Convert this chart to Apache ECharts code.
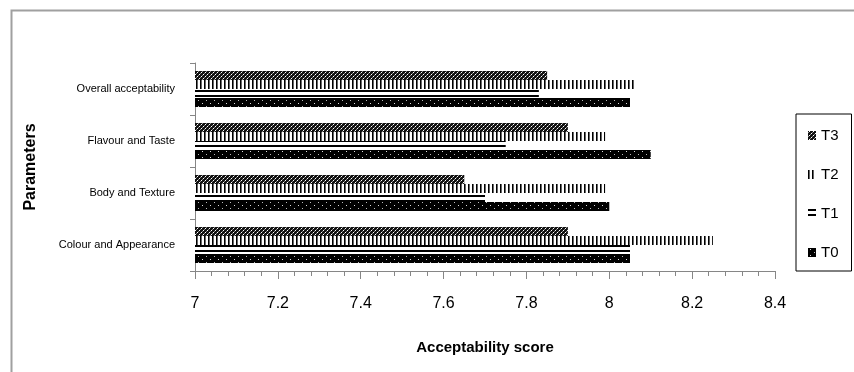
<!DOCTYPE html>
<html>
<head>
<meta charset="utf-8">
<script src="https://cdn.jsdelivr.net/npm/echarts@6/dist/echarts.min.js"></script>
<style>
html,body{margin:0;padding:0;background:#fff;}
#chart{width:854px;height:372px;}
</style>
</head>
<body>
<div id="chart"></div>
<script>
// ---- data ----
const categories = ['Colour and Appearance', 'Body and Texture', 'Flavour and Taste', 'Overall acceptability'];
const seriesNames = ['T3', 'T2', 'T1', 'T0'];
const T0 = [8.05, 8.00, 8.10, 8.05];
const T1 = [8.05, 7.70, 7.75, 7.83];
const T2 = [8.25, 7.99, 7.99, 8.06];
const T3 = [7.90, 7.65, 7.90, 7.85];
const xMin = 7, xMax = 8.4, xStep = 0.2;

// ---- patterns ----
function tile(w, h, draw) {
  const c = document.createElement('canvas');
  c.width = w; c.height = h;
  const ctx = c.getContext('2d');
  draw(ctx);
  return { image: c, repeat: 'repeat' };
}
function px(ctx, x, y, col) { ctx.fillStyle = col; ctx.fillRect(x, y, 1, 1); }

const patT0 = tile(8, 6, ctx => {
  ctx.fillStyle = '#000'; ctx.fillRect(0, 0, 8, 6);
  px(ctx, 2, 1, '#ddd'); px(ctx, 6, 4, '#bbb');
});
const patT1 = tile(1, 5, ctx => {
  ctx.fillStyle = '#fff'; ctx.fillRect(0, 0, 1, 5);
  ctx.fillStyle = '#000'; ctx.fillRect(0, 0, 1, 2);
});
const patT2 = tile(4, 1, ctx => {
  ctx.fillStyle = '#fff'; ctx.fillRect(0, 0, 4, 1);
  px(ctx, 0, 0, '#000'); px(ctx, 1, 0, '#666');
});
const patT3 = tile(4, 4, ctx => {
  ctx.fillStyle = '#111'; ctx.fillRect(0, 0, 4, 4);
  px(ctx, 1, 0, '#fff'); px(ctx, 3, 2, '#fff');
  px(ctx, 0, 1, '#888'); px(ctx, 2, 3, '#888');
});
const patterns = { T0: patT0, T1: patT1, T2: patT2, T3: patT3 };
const values = { T0: T0, T1: T1, T2: T2, T3: T3 };

const chart = echarts.init(document.getElementById('chart'), null, { renderer: 'canvas' });
const axisGray = '#868686';
const option = {
  backgroundColor: '#fff',
  animation: false,
  graphic: [{
    type: 'rect', left: 9, top: 8, z: -1,
    shape: { x: 0, y: 0, width: 900, height: 420 },
    style: { fill: 'none', stroke: '#a0a0a0', lineWidth: 2 }
  }],
  grid: { left: 195, right: 79, top: 63, bottom: 101, containLabel: false },
  legend: {
    orient: 'vertical', left: 796, top: 114,
    data: ['T3', 'T2', 'T1', 'T0'],
    icon: 'rect', itemWidth: 8, itemHeight: 9, itemGap: 22,
    padding: [13, 13, 10, 12],
    borderColor: '#000', borderWidth: 1,
    textStyle: { fontFamily: 'Liberation Sans', fontSize: 15, color: '#000', lineHeight: 17 }
  },
  xAxis: {
    type: 'value', min: xMin, max: xMax, interval: xStep,
    name: 'Acceptability score', nameLocation: 'middle', nameGap: 69,
    nameTextStyle: { fontFamily: 'Liberation Sans', fontWeight: 'bold', fontSize: 15, color: '#000' },
    axisLine: { show: true, lineStyle: { color: axisGray, width: 1 } },
    axisTick: { show: true, length: 8, lineStyle: { color: axisGray } },
    minorTick: { show: true, splitNumber: 5, length: 5, lineStyle: { color: axisGray } },
    splitLine: { show: false },
    axisLabel: {
      margin: 25, fontFamily: 'Liberation Sans', fontSize: 16, color: '#000',
      formatter: v => String(+v.toFixed(1))
    }
  },
  yAxis: {
    type: 'category', data: categories,
    name: 'Parameters', nameLocation: 'middle', nameGap: 156, nameRotate: 90,
    nameTextStyle: { fontFamily: 'Liberation Sans', fontWeight: 'bold', fontSize: 16, color: '#000' },
    axisLine: { show: true, lineStyle: { color: axisGray } },
    axisTick: { show: true, length: 5, alignWithLabel: false, lineStyle: { color: axisGray } },
    axisLabel: { margin: 20, fontFamily: 'Liberation Sans', fontSize: 11, color: '#000' }
  },
  series: seriesNames.map(n => ({
    name: n, type: 'bar', data: values[n],
    barWidth: 9, barGap: '0%',
    itemStyle: { color: patterns[n] }
  }))
};
chart.setOption(option);
</script>
</body>
</html>
